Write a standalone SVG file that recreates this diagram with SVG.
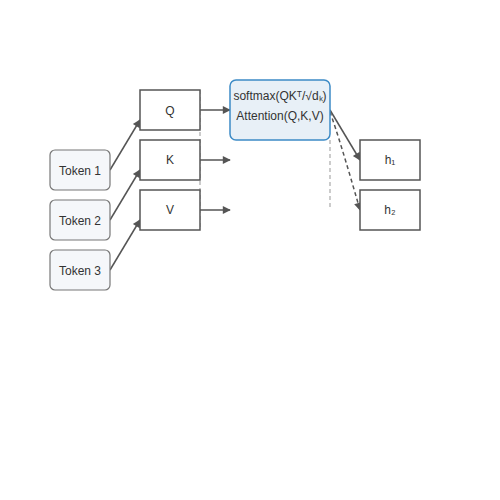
<svg xmlns="http://www.w3.org/2000/svg" width="500" height="500" viewBox="0 0 500 500">
<style>
  text { font-family: "Liberation Sans", Arial, sans-serif; font-size: 12px; fill: #333; text-anchor: middle; dominant-baseline: central; }
  .tok { fill: #f5f7fa; stroke: #777; stroke-width: 1.2; }
  .box { fill: #fff; stroke: #555; stroke-width: 1.5; }
  .att { fill: #e8f0f7; stroke: #3d8bc6; stroke-width: 1.5; }
  .edge { fill: none; stroke: #555; stroke-width: 1.5; }
  .dash { fill: none; stroke: #555; stroke-width: 1.5; stroke-dasharray: 4 3; }
  .guide { fill: none; stroke: #aaa; stroke-width: 1.2; stroke-dasharray: 4 3; }
</style>
<defs>
  <marker id="ah" viewBox="0 0 10 10" refX="9" refY="5" markerWidth="9" markerHeight="8" orient="auto" markerUnits="userSpaceOnUse" overflow="visible">
    <path d="M0,0 L10,5 L0,10 z" fill="#555"/>
  </marker>
</defs>
<rect width="500" height="500" fill="#fff"/>
<g id="guides">
  <line class="guide" x1="200" y1="90" x2="200" y2="230"/>
  <line class="guide" x1="330" y1="140" x2="330" y2="210"/>
</g>
<g id="connectors">
  <line class="edge" x1="110" y1="170" x2="140" y2="120" marker-end="url(#ah)"/>
  <line class="edge" x1="110" y1="220" x2="140" y2="170" marker-end="url(#ah)"/>
  <line class="edge" x1="110" y1="270" x2="140" y2="220" marker-end="url(#ah)"/>
  <line class="edge" x1="200" y1="110" x2="230" y2="110" marker-end="url(#ah)"/>
  <line class="edge" x1="200" y1="160" x2="230" y2="160" marker-end="url(#ah)"/>
  <line class="edge" x1="200" y1="210" x2="230" y2="210" marker-end="url(#ah)"/>
  <line class="edge" x1="330" y1="110" x2="360" y2="160" marker-end="url(#ah)"/>
  <path class="dash" d="M330,112 Q340,140 360,210" marker-end="url(#ah)"/>
</g>
<g id="token1"><rect class="tok" x="50" y="150" width="60" height="40" rx="5"/><text x="80" y="171">Token 1</text></g>
<g id="token2"><rect class="tok" x="50" y="200" width="60" height="40" rx="5"/><text x="80" y="221">Token 2</text></g>
<g id="token3"><rect class="tok" x="50" y="250" width="60" height="40" rx="5"/><text x="80" y="271">Token 3</text></g>
<g id="q"><rect class="box" x="140" y="90" width="60" height="40"/><text x="170" y="111">Q</text></g>
<g id="k"><rect class="box" x="140" y="140" width="60" height="40"/><text x="170" y="160">K</text></g>
<g id="v"><rect class="box" x="140" y="190" width="60" height="40"/><text x="170" y="210">V</text></g>
<g id="attention"><rect class="att" x="230" y="80" width="100" height="60" rx="6"/>
  <text x="280" y="96">softmax(QKᵀ/√dₖ)</text>
  <text x="280" y="116">Attention(Q,K,V)</text>
</g>
<g id="h1"><rect class="box" x="360" y="140" width="60" height="40"/><text x="390" y="160">h₁</text></g>
<g id="h2"><rect class="box" x="360" y="190" width="60" height="40"/><text x="390" y="210">h₂</text></g>
</svg>
